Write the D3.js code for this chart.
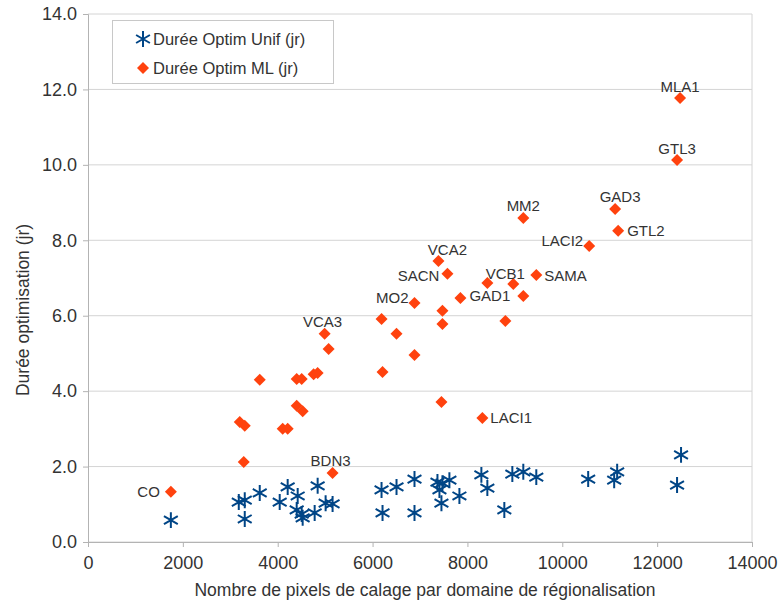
<!DOCTYPE html>
<html>
<head>
<meta charset="utf-8">
<script src="https://cdn.jsdelivr.net/npm/d3@7"></script>
<style>
  body { margin: 0; background: #fff; }
  svg { font-family: "Liberation Sans", Arial, sans-serif; }
</style>
</head>
<body>
<div id="chart"></div>
<script>
// Durée Optim Unif (jr)
const unifX = [1747, 3179, 3305, 3305, 3621, 4042, 4210, 4400, 4421, 4505, 4526, 4779, 4842, 5010, 5157,
  6189, 6210, 6505, 6884, 6884, 7368, 7410, 7452, 7473, 7620, 7831, 8294, 8420, 8778, 8947, 9178, 9452,
  10546, 11094, 11157, 12420, 12504];
const unifY = [0.58, 1.06, 1.11, 0.61, 1.30, 1.06, 1.46, 0.85, 1.22, 0.74, 0.64, 0.77, 1.49, 1.03, 1.01,
  1.38, 0.77, 1.46, 1.67, 0.77, 1.59, 1.38, 1.03, 1.56, 1.64, 1.22, 1.78, 1.43, 0.85, 1.80, 1.86, 1.72,
  1.67, 1.64, 1.86, 1.51, 2.31];

// Durée Optim ML (jr)
const mlX = [1747, 3200, 3284, 3305, 3621, 4105, 4210, 4400, 4400, 4505, 4526, 4757, 4842, 4989, 5073, 5157,
  6189, 6210, 6505, 6884, 6884, 7389, 7452, 7473, 7473, 7578, 7852, 8315, 8420, 8800, 8968, 9178, 9178,
  9452, 10567, 11114, 11178, 12420, 12483];
const mlY = [1.33, 3.18, 2.12, 3.08, 4.30, 3.00, 3.00, 3.61, 4.32, 4.32, 3.47, 4.45, 4.48, 5.52, 5.12, 1.83,
  5.91, 4.51, 5.52, 4.96, 6.34, 7.45, 3.71, 6.13, 5.78, 7.11, 6.47, 3.29, 6.87, 5.86, 6.84, 6.52, 8.59,
  7.08, 7.85, 8.83, 8.25, 10.13, 11.77];
const mlLabel = ["CO", "", "", "", "", "", "", "", "", "", "", "", "", "VCA3", "", "BDN3",
  "", "", "", "", "MO2", "VCA2", "", "", "", "SACN", "GAD1", "LACI1", "VCB1", "", "", "", "MM2",
  "SAMA", "LACI2", "GAD3", "GTL2", "GTL3", "MLA1"];

const xTicks = [0, 2000, 4000, 6000, 8000, 10000, 12000, 14000];
const yTicks = [0, 2, 4, 6, 8, 10, 12, 14];
const seriesNames = ["Durée Optim Unif (jr)", "Durée Optim ML (jr)"];

// label offsets from their point: dx, dy (baseline), anchor
const labelPos = {
  CO: [-11, 5, "end"], VCA3: [-2, -7, "middle"], BDN3: [-2, -7, "middle"], MO2: [-6, 0, "end"],
  VCA2: [9, -6, "middle"], SACN: [-8, 7, "end"], GAD1: [9, 3, "start"], LACI1: [8, 5, "start"],
  VCB1: [18, -4, "middle"], MM2: [0, -7, "middle"], SAMA: [8, 6, "start"], LACI2: [-6, 0, "end"],
  GAD3: [5, -7, "middle"], GTL2: [9, 5, "start"], GTL3: [0, -6, "middle"], MLA1: [0, -6, "middle"]
};

const W = 779, H = 603;
const margin = { top: 14, right: 27, bottom: 61, left: 88 };
const blue = "#004586", orange = "#ff420e";

const svg = d3.select("#chart").append("svg")
  .attr("width", W).attr("height", H);

const x = d3.scaleLinear().domain([0, 14000]).range([margin.left, W - margin.right]);
const y = d3.scaleLinear().domain([0, 14]).range([H - margin.bottom, margin.top]);

// grid
svg.append("g").selectAll("line").data(yTicks).join("line")
  .attr("x1", x(0)).attr("x2", x(14000))
  .attr("y1", d => y(d)).attr("y2", d => y(d))
  .attr("stroke", "#d4d4d4").attr("stroke-width", 1);
svg.append("line")
  .attr("x1", x(14000)).attr("x2", x(14000)).attr("y1", y(0)).attr("y2", y(14))
  .attr("stroke", "#d4d4d4");

// axes
const xAxis = svg.append("g")
  .attr("transform", `translate(0,${y(0)})`)
  .call(d3.axisBottom(x).tickValues(xTicks).tickFormat(d3.format("d")).tickSize(5).tickPadding(9));
const yAxis = svg.append("g")
  .attr("transform", `translate(${x(0)},0)`)
  .call(d3.axisLeft(y).tickValues(yTicks).tickFormat(d3.format(".1f")).tickSize(5).tickPadding(6));
[xAxis, yAxis].forEach(g => {
  g.select(".domain").attr("stroke", "#b3b3b3");
  g.selectAll(".tick line").attr("stroke", "#b3b3b3");
  g.selectAll(".tick text").attr("fill", "#333").style("font-size", "18px")
    .style("font-family", "'Liberation Sans', Arial, sans-serif");
});

// axis titles
svg.append("text")
  .attr("x", (x(0) + x(14000)) / 2 + 5).attr("y", 596)
  .attr("text-anchor", "middle").attr("fill", "#333").style("font-size", "17.5px")
  .text("Nombre de pixels de calage par domaine de régionalisation");
svg.append("text")
  .attr("transform", `translate(29,${(y(0) + y(14)) / 2 + 32}) rotate(-90)`)
  .attr("text-anchor", "middle").attr("fill", "#333").style("font-size", "17.5px")
  .text("Durée optimisation (jr)");

const asterisk = d3.symbol().type(d3.symbolAsterisk).size(180);
const diamond = d3.symbol().type(d3.symbolSquare).size(72);

const unif = unifX.map((v, i) => ({ x: v, y: unifY[i] }));
const ml = mlX.map((v, i) => ({ x: v, y: mlY[i], label: mlLabel[i] }));

svg.append("g").selectAll("path").data(unif).join("path")
  .attr("d", asterisk)
  .attr("transform", d => `translate(${x(d.x)},${y(d.y)})`)
  .attr("fill", "none").attr("stroke", blue).attr("stroke-width", 2);

svg.append("g").selectAll("path").data(ml).join("path")
  .attr("d", diamond)
  .attr("transform", d => `translate(${x(d.x)},${y(d.y)}) rotate(45)`)
  .attr("fill", orange);

// point labels
svg.append("g").selectAll("text").data(ml.filter(d => d.label)).join("text")
  .attr("x", d => x(d.x) + labelPos[d.label][0])
  .attr("y", d => y(d.y) + labelPos[d.label][1])
  .attr("text-anchor", d => labelPos[d.label][2])
  .attr("fill", "#333").style("font-size", "15px")
  .text(d => d.label);

// legend
const lg = svg.append("g");
lg.append("rect").attr("x", 112.5).attr("y", 20.5).attr("width", 221).attr("height", 63)
  .attr("fill", "#fff").attr("stroke", "#c8c8c8");
seriesNames.forEach((name, i) => {
  const cy = 39 + i * 29;
  lg.append("path")
    .attr("d", i === 0 ? asterisk : diamond)
    .attr("transform", `translate(143,${cy})` + (i === 0 ? "" : " rotate(45)"))
    .attr("fill", i === 0 ? "none" : orange)
    .attr("stroke", i === 0 ? blue : "none").attr("stroke-width", 2);
  lg.append("text").attr("x", 153).attr("y", cy + 6)
    .attr("fill", "#333").style("font-size", "16.5px").text(name);
});
</script>
</body>
</html>
